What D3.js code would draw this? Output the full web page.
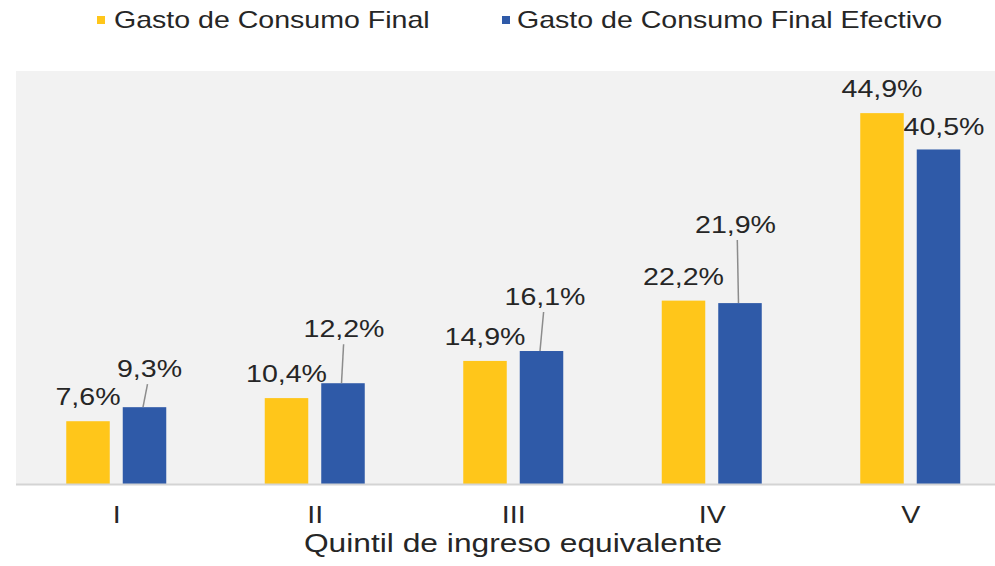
<!DOCTYPE html>
<html>
<head>
<meta charset="utf-8">
<script src="https://cdn.jsdelivr.net/npm/d3@7"></script>
<style>
  html, body { margin: 0; padding: 0; background: #ffffff; }
  svg { display: block; }
  text { font-family: "Liberation Sans", Arial, sans-serif; fill: #262626; }
</style>
</head>
<body>
<svg id="chart" width="995" height="566"></svg>
<script>
// ---- data ----
const categories = ["I", "II", "III", "IV", "V"];
const seriesNames = ["Gasto de Consumo Final", "Gasto de Consumo Final Efectivo"];
const gastoFinal = [7.6, 10.4, 14.9, 22.2, 44.9];
const gastoFinalEfectivo = [9.3, 12.2, 16.1, 21.9, 40.5];
const axisTitle = "Quintil de ingreso equivalente";

// ---- layout ----
const W = 995, H = 566;
const plot = { left: 16, right: 1008.5, top: 71, bottom: 484 };
const colors = ["#FFC61A", "#2F5AA8"];
const SX = 1.19; // horizontal stretch of the text in the reference
// blue label placement (layout only): [dx, lift above bar top, leader line]
const blueLabelLayout = [[5, 30, true], [1, 46, true], [3.5, 46, true], [-4.5, 70, true], [5.5, 14.5, false]];

const svg = d3.select("#chart");

const x = d3.scaleBand().domain(categories).range([plot.left, plot.right]).padding(0);
const x1 = d3.scaleBand().domain(seriesNames).range([-49, 51]).paddingInner(0.23);
const y = d3.scaleLinear().domain([0, 50]).range([plot.bottom, plot.top]);

// plot background
svg.append("rect")
  .attr("x", plot.left).attr("y", plot.top)
  .attr("width", W - plot.left).attr("height", plot.bottom - plot.top)
  .attr("fill", "#f2f2f2");

const fmt = v => d3.format(".1f")(v).replace(".", ",") + "%";

function stretchedText(g, tx, ty, str, size, sx) {
  return g.append("text")
    .attr("transform", `translate(${tx},${ty}) scale(${sx},1)`)
    .attr("text-anchor", "middle")
    .style("font-size", size + "px")
    .text(str);
}

const seriesData = [gastoFinal, gastoFinalEfectivo];

// bars
seriesData.forEach((vals, si) => {
  svg.append("g").selectAll("rect")
    .data(vals)
    .join("rect")
    .attr("x", (d, i) => x(categories[i]) + x.bandwidth() / 2 + x1(seriesNames[si]))
    .attr("y", d => y(d))
    .attr("width", x1.bandwidth())
    .attr("height", d => y(0) - y(d))
    .attr("fill", colors[si]);
});

// baseline
svg.append("line")
  .attr("x1", plot.left).attr("x2", W)
  .attr("y1", y(0) + 0.5).attr("y2", y(0) + 0.5)
  .attr("stroke", "#d4d4d4").attr("stroke-width", 2);

const labels = svg.append("g");
// yellow labels
gastoFinal.forEach((v, i) => {
  const cx = x(categories[i]) + x.bandwidth() / 2 + x1(seriesNames[0]) + x1.bandwidth() / 2;
  stretchedText(labels, cx, y(v) - 16, fmt(v), 24, SX);
});
// blue labels with leader lines
gastoFinalEfectivo.forEach((v, i) => {
  const cx = x(categories[i]) + x.bandwidth() / 2 + x1(seriesNames[1]) + x1.bandwidth() / 2;
  const [dx, lift, leader] = blueLabelLayout[i];
  const by = y(v) - lift;
  if (leader) {
    labels.append("line")
      .attr("x1", cx - 1.5).attr("y1", y(v))
      .attr("x2", cx + dx * 0.6).attr("y2", by + 7)
      .attr("stroke", "#8c8c8c").attr("stroke-width", 1.5);
  }
  stretchedText(labels, cx + dx, by, fmt(v), 24, SX);
});

// category tick labels
const ticks = svg.append("g");
categories.forEach(c => {
  stretchedText(ticks, x(c) + x.bandwidth() / 2 + 1.5, 523, c, 24, SX);
});

// axis title
stretchedText(svg, 513, 552, axisTitle, 25, 1.27);

// legend
const legendItems = [{ mx: 97, tx: 114 }, { mx: 502, tx: 517 }];
seriesNames.forEach((name, i) => {
  const li = legendItems[i];
  svg.append("rect")
    .attr("x", li.mx).attr("y", 16)
    .attr("width", 8).attr("height", 8)
    .attr("fill", colors[i]);
  svg.append("text")
    .attr("transform", `translate(${li.tx},28) scale(${SX},1)`)
    .attr("text-anchor", "start")
    .style("font-size", "24px")
    .text(name);
});
</script>
</body>
</html>
